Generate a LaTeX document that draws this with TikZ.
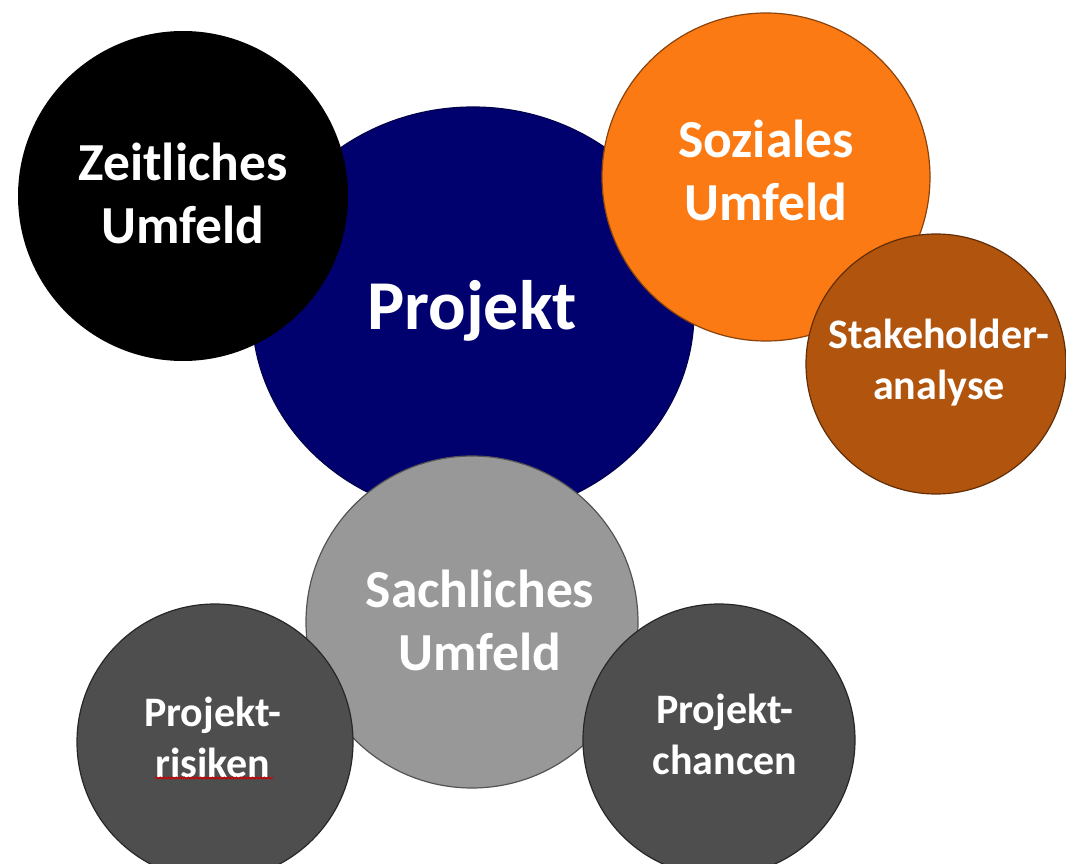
\documentclass[tikz,border=0pt]{standalone}
\usepackage{fontspec}
\setmainfont{Carlito}
\usetikzlibrary{shapes.geometric,decorations.pathmorphing}
\definecolor{navyc}{RGB}{0,0,110}
\definecolor{orangec}{RGB}{252,122,20}
\definecolor{brownc}{RGB}{176,84,14}
\definecolor{grayc}{RGB}{152,152,152}
\definecolor{darkc}{RGB}{78,78,78}
\tikzset{
  bubble/.style={circle, inner sep=0pt, line width=1.2pt},
  lbl/.style={inner sep=0pt, text=white, align=center},
  bigtxt/.style={font=\fontsize{70}{84}\selectfont\bfseries},
  midtxt/.style={font=\fontsize{53.5}{63}\selectfont\bfseries},
  smalltxt/.style={font=\fontsize{42}{51}\selectfont\bfseries},
}
\begin{document}
\begin{tikzpicture}[x=1pt,y=-1pt]
\useasboundingbox[fill=white] (0,0) rectangle (1066,864);
% circles, back to front
\node[ellipse, inner sep=0pt, minimum width=442pt, minimum height=410pt, fill=navyc, draw=navyc!70!black, line width=1.2pt] (proj) at (473,312) {};
\node[lbl, bigtxt] (projT) at (472,311) {Projekt};
\node[bubble, minimum size=330pt, fill=black] (zeit) at (183,196) {};
\node[lbl, midtxt] (zeitT) at (183,193) {Zeitliches\\Umfeld};
\node[bubble, minimum size=328pt, fill=orangec, draw=orangec!55!black] (soz) at (766,177) {};
\node[lbl, midtxt] (sozT) at (766,170) {Soziales\\Umfeld};
\node[bubble, minimum size=260pt, fill=brownc, draw=brownc!55!black] (stake) at (936,364) {};
\node[lbl, smalltxt] (stakeT) at (939,363) {Stakeholder-\\analyse};
\node[bubble, minimum size=332pt, fill=grayc, draw=grayc!55!black] (sach) at (472,622) {};
\node[lbl, midtxt] (sachT) at (480,620) {Sachliches\\Umfeld};
\node[bubble, minimum size=276pt, fill=darkc, draw=darkc!50!black] (risk) at (215,742) {};
\node[lbl, smalltxt] (riskT) at (213,737) {Projekt-\\risiken};
\node[bubble, minimum size=272pt, fill=darkc, draw=darkc!50!black] (chance) at (719,740) {};
\node[lbl, smalltxt] (chanceT) at (725,734) {Projekt-\\chancen};
% spell-check underline
\draw[red!80!black, line width=1.2pt, decorate, decoration={snake, amplitude=0.8pt, segment length=4pt}] (155,778) -- (273,778);
\end{tikzpicture}
\end{document}
